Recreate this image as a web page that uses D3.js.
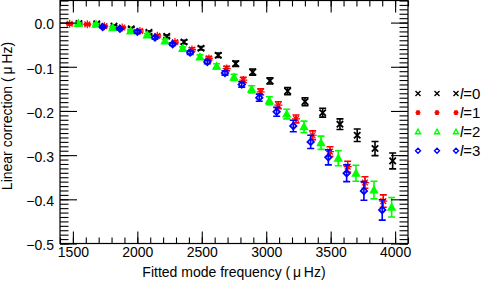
<!DOCTYPE html>
<html><head><meta charset="utf-8">
<script src="https://cdn.jsdelivr.net/npm/d3@7"></script>
<style>body{margin:0;background:#fff}svg{display:block}text{font-family:"Liberation Sans",Arial,Helvetica,sans-serif}</style>
</head><body>
<svg id="c" width="484" height="281"></svg>
<script>
// Data
const freqL0 = [1547,1685,1819,1953,2090,2228,2362,2494,2628,2763,2895,3029,3166,3301,3438,3572,3706,3844,3981];
const corrL0 = [-0.002,-0.003,-0.008,-0.014,-0.022,-0.031,-0.044,-0.058,-0.074,-0.093,-0.112,-0.132,-0.155,-0.179,-0.204,-0.230,-0.255,-0.285,-0.313];
const errL0  = [0.002,0.002,0.002,0.003,0.003,0.003,0.004,0.004,0.005,0.006,0.007,0.007,0.008,0.009,0.010,0.012,0.014,0.016,0.018];

const freqL1 = [1475,1612,1744,1883,2020,2155,2292,2424,2555,2693,2822,2957,3094,3231,3360,3495,3632,3766,3908];
const corrL1 = [-0.0025,-0.004,-0.008,-0.011,-0.019,-0.030,-0.044,-0.061,-0.081,-0.104,-0.130,-0.157,-0.187,-0.218,-0.255,-0.292,-0.326,-0.362,-0.404];
const errL1  = [0.002,0.002,0.002,0.002,0.003,0.003,0.003,0.004,0.004,0.005,0.006,0.007,0.008,0.009,0.010,0.011,0.012,0.013,0.014];

const freqL2 = [1541,1679,1809,1948,2077,2215,2352,2486,2615,2750,2887,3024,3159,3293,3425,3559,3696,3836,3973];
const corrL2 = [-0.002,-0.004,-0.0115,-0.019,-0.028,-0.042,-0.059,-0.078,-0.099,-0.124,-0.151,-0.177,-0.207,-0.236,-0.272,-0.307,-0.341,-0.379,-0.418];
const errL2  = [0.002,0.002,0.002,0.003,0.003,0.004,0.004,0.005,0.006,0.007,0.008,0.009,0.011,0.013,0.015,0.017,0.018,0.020,0.022];

const freqL3 = [1731,1865,2000,2137,2274,2410,2543,2680,2810,2946,3081,3210,3345,3482,3624,3758,3900];
const corrL3 = [-0.010,-0.014,-0.021,-0.034,-0.049,-0.068,-0.089,-0.114,-0.140,-0.170,-0.202,-0.234,-0.270,-0.305,-0.341,-0.381,-0.424];
const errL3  = [0.002,0.002,0.003,0.003,0.003,0.004,0.004,0.005,0.006,0.008,0.010,0.013,0.015,0.017,0.019,0.021,0.023];

const xTicks = [1500,2000,2500,3000,3500,4000];
const xMinor = d3.range(1400,4101,100);
const yTicks = [0.0,-0.1,-0.2,-0.3,-0.4,-0.5];
const yMinor = d3.range(-50,6,1).map(v=>v/100);
const legendLabels = ["0","1","2","3"];
const colors = ["#000000","#ff0000","#00ff00","#0000ff"];

const series = [
  {f:freqL0,v:corrL0,e:errL0},
  {f:freqL1,v:corrL1,e:errL1},
  {f:freqL2,v:corrL2,e:errL2},
  {f:freqL3,v:corrL3,e:errL3}
];

const L=60, R=408, T=0.5, B=243.5;
const x = d3.scaleLinear().domain([1400,4100]).range([L,R]);
const y = d3.scaleLinear().domain([-0.5,0.05]).range([B,T]);
const svg = d3.select("#c");

// markers
function marker(g, k, s, sw, col, filled){
  let d;
  if(k===0) d=`M${-s},${-s}L${s},${s}M${-s},${s}L${s},${-s}`;
  else if(k===1){ const a=s*0.72; d=`M0,${-s}L0,${s}M${-s},0L${s},0M${-a},${-a}L${a},${a}M${-a},${a}L${a},${-a}`; }
  else if(k===2) d=`M0,${-s}L${s},${s*0.8}L${-s},${s*0.8}Z`;
  else d=`M0,${-s}L${s},0L0,${s}L${-s},0Z`;
  g.append("path").attr("d",d).attr("stroke",col).attr("stroke-width",sw)
   .attr("fill",(filled && k===2)?col:"none").attr("stroke-linejoin","miter");
}

const plot = svg.append("g");
series.forEach((sr,k)=>{
  const col = colors[k];
  sr.f.forEach((f,i)=>{
    const cx = x(f), cy = y(sr.v[i]);
    const y1 = y(sr.v[i]+sr.e[i]), y2 = y(sr.v[i]-sr.e[i]);
    plot.append("path")
      .attr("d",`M${cx},${y1}L${cx},${y2}M${cx-3.5},${y1}L${cx+3.5},${y1}M${cx-3.5},${y2}L${cx+3.5},${y2}`)
      .attr("stroke",col).attr("stroke-width",1.6).attr("fill","none");
    const g = plot.append("g").attr("transform",`translate(${cx},${cy})`);
    marker(g,k,k===1?4:3.2,k===1?1.2:1.8,col,true);
  });
});

// axes (ticks inward)
const ax = svg.append("g");
function styleAxis(sel){
  sel.select(".domain").remove();
  sel.selectAll(".tick line").attr("stroke","#000").attr("stroke-width",1.1);
}
ax.append("g").attr("transform",`translate(0,${B})`)
  .call(d3.axisBottom(x).tickValues(xMinor).tickSize(-6).tickFormat("")).call(styleAxis);
ax.append("g").attr("transform",`translate(0,${B})`)
  .call(d3.axisBottom(x).tickValues(xTicks).tickSize(-12).tickPadding(4).tickFormat(d3.format("d")))
  .call(styleAxis).call(g=>g.selectAll("text").attr("font-size",14).attr("fill","#000"));
ax.append("g").attr("transform",`translate(0,${T})`)
  .call(d3.axisTop(x).tickValues(xMinor).tickSize(-6).tickFormat("")).call(styleAxis);
ax.append("g").attr("transform",`translate(0,${T})`)
  .call(d3.axisTop(x).tickValues(xTicks).tickSize(-12).tickFormat("")).call(styleAxis);
ax.append("g").attr("transform",`translate(${L},0)`)
  .call(d3.axisLeft(y).tickValues(yMinor).tickSize(-8.5).tickFormat("")).call(styleAxis);
ax.append("g").attr("transform",`translate(${L},0)`)
  .call(d3.axisLeft(y).tickValues(yTicks).tickSize(-17).tickFormat(d3.format(".1f")))
  .call(styleAxis).call(g=>g.selectAll("text").attr("font-size",14).attr("fill","#000").attr("x",-6).attr("dy","0.45em"));
ax.append("g").attr("transform",`translate(${R},0)`)
  .call(d3.axisRight(y).tickValues(yMinor).tickSize(-8.5).tickFormat("")).call(styleAxis);
ax.append("g").attr("transform",`translate(${R},0)`)
  .call(d3.axisRight(y).tickValues(yTicks).tickSize(-17).tickFormat("")).call(styleAxis);

svg.append("rect").attr("x",L).attr("y",T).attr("width",R-L).attr("height",B-T)
  .attr("fill","none").attr("stroke","#000").attr("stroke-width",1.2);

// axis titles
svg.append("text").attr("x",(L+R)/2).attr("y",277).attr("text-anchor","middle")
  .attr("font-size",14).text("Fitted mode frequency (\u2009\u03BC\u2009Hz)");
svg.append("text").attr("transform",`translate(12,${(T+B)/2-6}) rotate(-90)`).attr("text-anchor","middle")
  .attr("font-size",14).text("Linear correction (\u2009\u03BC\u2009Hz)");

// legend
const lg = svg.append("g");
legendLabels.forEach((lab,k)=>{
  const ly = 93.5 + k*19.1;
  [418,437,456].forEach(mx=>{
    const g = lg.append("g").attr("transform",`translate(${mx},${ly})`);
    marker(g,k,2.5,1.4,colors[k],false);
  });
  const t = lg.append("text").attr("x",460).attr("y",ly).attr("dy","0.36em").attr("font-size",15);
  t.append("tspan").attr("font-style","italic").text("l");
  t.append("tspan").text("="+lab);
});
</script>
</body></html>
